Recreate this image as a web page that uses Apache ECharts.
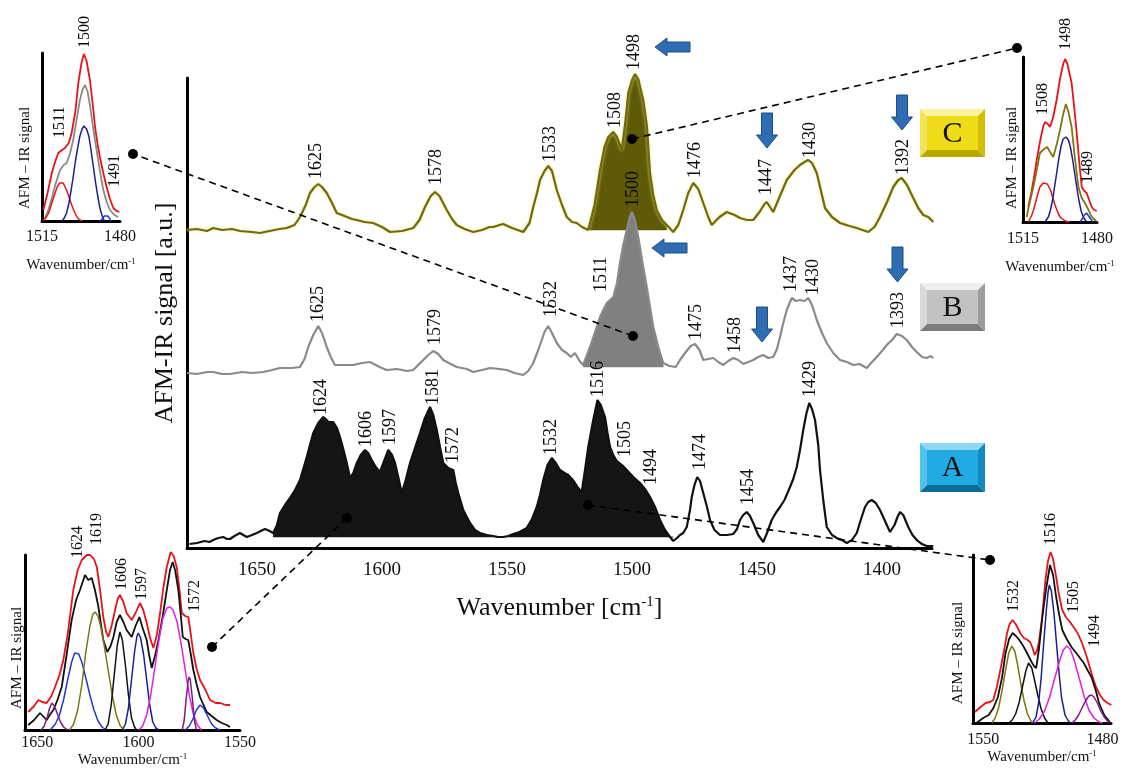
<!DOCTYPE html>
<html><head><meta charset="utf-8">
<script src="https://cdn.jsdelivr.net/npm/echarts@6/dist/echarts.min.js"></script>
<style>html,body{margin:0;padding:0;background:#fff}#c{width:1132px;height:770px}</style>
</head><body><div id="c"></div>
<script>
// ---------------- main spectra: [wavenumber, signal] ----------------
const specC = [[1678,315],[1674,316],[1670,314],[1667.5,317],[1664,315],[1660,316],[1656.8,314],[1652,313],[1648.8,312],[1645,314],[1641,316],[1638.1,317],[1635,320],[1632.8,328],[1630.5,340],[1628.8,352],[1627,358],[1625.5,361],[1624,358],[1622.1,352],[1620,342],[1618.1,332],[1615,329],[1612,326],[1610.1,325],[1607,323],[1603.5,322],[1600,318],[1596.8,313],[1592,314],[1587.5,317],[1585,325],[1582.8,338],[1580.5,349],[1578.8,353],[1577,349],[1574.1,335],[1572,326],[1570.1,320],[1567,316],[1563.5,313],[1560,315],[1557,318],[1555.5,318],[1553,320],[1551.5,321],[1548,317],[1543.5,313],[1541,322],[1539.5,338],[1538,352],[1536.8,365],[1535,374],[1533.5,379],[1532,374],[1530.1,355],[1528,340],[1526.1,328],[1524,323],[1522.1,322],[1520,318],[1517.5,315],[1515,340],[1512.8,375],[1511,398],[1509.5,408],[1507.5,413],[1506,408],[1504.1,395],[1502.8,420],[1501.5,452],[1500,465],[1498.8,471],[1497.5,466],[1495.5,445],[1494,418],[1492.8,372],[1491.5,350],[1490.1,335],[1488,325],[1486.1,320],[1483.5,313],[1481.5,320],[1479.5,335],[1477.5,352],[1475.5,362],[1473.5,356],[1471.5,342],[1469.5,328],[1468.1,320],[1465,328],[1462.1,333],[1459,330],[1456.8,327],[1454,325],[1451.5,325],[1449,333],[1447,341],[1446.1,343],[1444.8,338],[1443.5,333],[1441,348],[1438.1,365],[1435,375],[1432.8,380],[1431,383],[1429.5,385],[1428,382],[1426.1,372],[1424.5,355],[1422.8,337],[1420,328],[1416.8,322],[1413,319],[1410.1,317],[1405.5,313],[1403,318],[1400.8,328],[1398,343],[1395.5,358],[1393.5,365],[1392.1,367],[1390,360],[1387.5,347],[1385.5,337],[1383.5,330],[1381.5,328],[1379.5,323]];
const specB = [[1678,172],[1674,171],[1670,173],[1667.5,173],[1664,171],[1660.8,171],[1656,173],[1652,172],[1647.5,173],[1644,175],[1640.8,177],[1636,177],[1632.8,178],[1631,186],[1629.5,198],[1627.5,210],[1625.5,219],[1624,212],[1622.1,198],[1620.5,188],[1618.8,180],[1615,180],[1611.5,180],[1608,182],[1604.8,183],[1601,178],[1598.1,175],[1594,176],[1590,174],[1587.5,175],[1585.5,180],[1583.5,185],[1581.5,190],[1579.5,194],[1577.5,191],[1575.5,185],[1572.5,181],[1570.1,178],[1566,176],[1563.5,173],[1560,175],[1556.8,177],[1553,176],[1550.1,175],[1547,172],[1543.5,170],[1541.5,174],[1539.5,182],[1537.5,195],[1536.1,205],[1535,213],[1533.5,219],[1532,212],[1530.1,202],[1528,195],[1526.1,192],[1524.5,188],[1522.8,192],[1521,184],[1519.5,180],[1516.8,198],[1514.5,215],[1512.8,228],[1510.1,242],[1507.5,248],[1506,262],[1504.8,282],[1503.5,300],[1502.1,315],[1501,327],[1500,333],[1498.8,325],[1497.5,308],[1495.8,282],[1494.1,258],[1492.8,238],[1491.5,218],[1489.5,198],[1487.5,182],[1485,179],[1482.5,178],[1480.8,185],[1478.5,193],[1476.5,199],[1474.8,201],[1473,195],[1471.5,185],[1469.5,186],[1467.5,187],[1465.5,183],[1463.5,180],[1461.5,184],[1459.5,187],[1457.5,185],[1455.5,181],[1453.5,183],[1451.5,185],[1449.5,188],[1447.5,190],[1445.5,187],[1443.5,188],[1442,196],[1440.8,208],[1439.5,222],[1438.1,235],[1436.1,247],[1434.5,244],[1432.8,245],[1431,244],[1429.5,247],[1428,240],[1426.1,225],[1424,212],[1422.1,202],[1419.5,192],[1416.8,185],[1414,183],[1411.5,180],[1409,181],[1406.1,177],[1404,183],[1402.1,188],[1400,194],[1398.1,200],[1396,205],[1394.1,211],[1392,209],[1390.1,205],[1388,198],[1386.1,193],[1384,188],[1382.1,187],[1380.5,189],[1379.5,187]];
const specA = [[1677,1],[1674,2],[1671,4],[1669,3],[1667.5,5],[1665.5,7],[1663.5,8],[1662,6],[1660.8,6],[1659,9],[1656.8,12],[1655.5,10],[1654.1,8],[1652,10],[1650.1,12],[1648.5,14],[1646.8,16],[1645,14],[1643.5,12],[1642,20],[1640.8,32],[1638.8,40],[1636.8,47],[1634.8,55],[1632.8,65],[1631.5,76],[1630.1,88],[1628.8,100],[1627.5,112],[1625.5,122],[1623.5,128],[1622.5,126],[1621.5,123],[1619.5,123],[1618,117],[1616.8,108],[1615.5,96],[1614.1,82],[1612.8,67],[1611.5,72],[1610.1,82],[1608.5,90],[1606.8,95],[1605.5,92],[1604.1,85],[1602.5,78],[1600.8,73],[1599,85],[1597.5,95],[1596,90],[1594.8,82],[1593.5,68],[1592.1,52],[1590.5,65],[1588.8,82],[1586.8,97],[1584.8,112],[1583,126],[1580.8,138],[1579.5,130],[1578.1,115],[1576.8,98],[1575.5,82],[1573.5,77],[1571.5,75],[1570.5,62],[1569.5,52],[1567.5,35],[1564.8,22],[1562.8,15],[1560.8,12],[1558,10],[1555.5,9],[1553.5,8],[1551.5,8],[1549.5,9],[1547.5,11],[1545,13],[1542.1,17],[1540,26],[1538.1,38],[1536.8,50],[1535.5,65],[1533.8,80],[1532.1,87],[1530.5,82],[1528.8,75],[1527,72],[1525.5,70],[1524,66],[1522.8,62],[1521.5,57],[1520.1,53],[1518.8,75],[1517.5,98],[1515.5,125],[1513.8,145],[1512.5,140],[1510.8,128],[1509.8,112],[1508.8,98],[1507.5,90],[1506.1,84],[1504,80],[1502.1,75],[1499.5,68],[1496.8,62],[1494.5,55],[1492.8,48],[1490.8,38],[1488.8,25],[1486.8,15],[1484.8,8],[1483.5,4],[1482,7],[1480.8,10],[1479.5,12],[1478.1,18],[1476.8,35],[1476.1,48],[1475,60],[1473.9,68],[1472.8,64],[1471.5,52],[1470,38],[1468.8,25],[1467,15],[1464.8,10],[1462,10],[1459.5,11],[1458,16],[1456.8,25],[1455.5,30],[1454.1,33],[1452.8,29],[1451.5,22],[1449.5,10],[1447.5,3],[1446,12],[1444.1,25],[1442.5,32],[1440.8,38],[1439,45],[1436.8,58],[1435.5,66],[1434.1,78],[1432.8,95],[1431.5,115],[1430.2,132],[1429.1,142],[1428,136],[1426.8,125],[1425.5,100],[1424.8,75],[1423.5,45],[1422.1,18],[1420,10],[1418.1,7],[1416,5],[1414.1,2],[1412,5],[1410.1,12],[1408.5,25],[1406.8,38],[1405.5,43],[1404.1,45],[1402.5,42],[1400.8,35],[1398.8,24],[1396.8,13],[1395,20],[1393.8,28],[1392.8,33],[1391.5,30],[1389.5,18],[1387.8,10],[1386.1,5],[1384,1],[1382.1,-1],[1379.5,-1]];

// filled band of each spectrum: [from, to] wavenumbers and baseline level
const fillC = [1517.5, 1484, 315];
const fillB = [1520, 1487, 178];
const fillA = [1643.5, 1483.5, 8];

// peak labels: [wavenumber, level, text]
const labelsC = [[1626.1,366,'1625'],[1578.1,360,'1578'],[1532.8,383,'1533'],[1506.8,417,'1508'],[1499.2,475,'1498'],[1474.8,367,'1476'],[1446.1,350,'1447'],[1428.8,387,'1430'],[1391.5,370,'1392']];
const labelsB = [[1625.5,223,'1625'],[1578.8,200,'1579'],[1532.1,228,'1532'],[1512.1,253,'1511'],[1499.6,338,'1500'],[1474.2,205,'1475'],[1458.8,192,'1458'],[1436.1,253,'1437'],[1427.5,250,'1430'],[1393.5,217,'1393']];
const labelsA = [[1624.1,130,'1624'],[1606.1,98,'1606'],[1596.8,100,'1597'],[1579.5,140,'1581'],[1571.5,82,'1572'],[1532.1,90,'1532'],[1513.5,148,'1516'],[1502.8,88,'1505'],[1492.1,60,'1494'],[1472.8,75,'1474'],[1453.5,40,'1454'],[1428.8,148,'1429']];

// main tick labels
const mainTicks = [1650, 1600, 1550, 1500, 1450, 1400];

// ---------------- inset spectra ----------------
// top-left inset (spectrum B, 1515-1480)
const tlTotal = [[1514.4,11],[1512.5,28],[1510.6,48],[1509,60],[1507.7,68],[1506,71],[1504.7,73],[1503,78],[1501.7,88],[1500,110],[1498.7,138],[1497.3,158],[1496.2,167],[1495,160],[1493.5,141],[1492.3,118],[1491.2,94],[1490,76],[1489,64],[1487.5,48],[1486,34],[1484.5,22],[1483,13],[1481.5,10],[1480.3,9]];
const tlSpec = [[1513.7,3],[1512,12],[1510.6,23],[1508.8,38],[1506.9,51],[1505.3,56],[1503.9,58],[1502.5,67],[1501,81],[1499.5,101],[1498,121],[1496.7,132],[1495.7,136],[1494.6,130],[1493.5,116],[1492,92],[1490.5,71],[1489,50],[1487.5,31],[1486,19],[1484.5,11],[1482.5,6],[1480.8,4]];
const tlBand1 = [[1514.4,0],[1513,4],[1512,8],[1511,15],[1510,22],[1509,29],[1508,35],[1507,38],[1506.5,39],[1505.5,38],[1505,36],[1504,31],[1503,25],[1502,18],[1501,12],[1500,7],[1499,3],[1498,1],[1497,0]];
const tlBand2 = [[1506,0],[1505,3],[1504,8],[1503,17],[1502,30],[1501,44],[1500,60],[1499,73],[1498,85],[1497,92],[1496.2,95],[1495,92],[1494,85],[1493,71],[1492,55],[1491,39],[1490,25],[1489,13],[1488,5],[1487,0]];
const tlBand3 = [[1489,0],[1488,2],[1487,5],[1486.3,6],[1485.5,5],[1484.5,2],[1484,0]];
const tlLabels = [[1495.7,173,'1500'],[1506.9,83,'1511'],[1482.2,34,'1491']];

// top-right inset (spectrum C)
const trTotal = [[1512.5,15],[1511,30],[1510,42],[1508.5,62],[1507,80],[1505.5,95],[1504.6,100],[1503.3,98],[1502.2,95],[1500.7,105],[1499.1,122],[1497.5,143],[1496,158],[1495.1,163],[1494,158],[1492,139],[1490.8,115],[1489.6,89],[1488.4,60],[1487.2,35],[1486,31],[1484.9,29],[1483.7,22],[1482.5,15],[1481.3,12],[1480.1,11]];
const trSpec = [[1513.3,5],[1512,18],[1510.1,35],[1508.5,52],[1507,69],[1505,73],[1503.5,75],[1502.5,71],[1500.7,65],[1499,78],[1497.5,92],[1496,108],[1494.7,118],[1493.5,110],[1492,95],[1490.5,65],[1488.8,35],[1487.2,24],[1485.7,19],[1484,12],[1482.5,5],[1480.5,1]];
const trBand1 = [[1512.5,0],[1511,6],[1510,12],[1509,20],[1508,28],[1507,35],[1505.5,39],[1504.6,40],[1503.5,38],[1502,32],[1501,25],[1500,18],[1499,12],[1498,7],[1497,4],[1495,1],[1493,0]];
const trBand2 = [[1504.6,0],[1503,5],[1502,12],[1501,22],[1500,36],[1499,50],[1498,64],[1497,76],[1496,83],[1494.7,85],[1493.5,82],[1492.5,74],[1491.5,62],[1490.5,48],[1489.5,34],[1488.5,21],[1487.5,11],[1486.5,5],[1484.9,0]];
const trBand3 = [[1488,0],[1487,3],[1486,7],[1484.9,9],[1484,7],[1483,3],[1482,0]];
const trLabels = [[1494.7,172,'1498'],[1505.5,107,'1508'],[1484.3,39,'1489']];

// bottom-left inset (spectrum A, 1656-1550)
const blTotal = [[1654.4,18],[1651.5,24],[1649.4,30],[1647.5,28],[1645.3,27],[1643,34],[1641.2,43],[1639,55],[1637.1,70],[1635,95],[1632.2,140],[1630,160],[1628,170],[1625.5,175],[1623.9,175],[1622,171],[1620.6,163],[1619,140],[1617.4,113],[1616,98],[1614.9,93],[1613.2,105],[1611.6,120],[1610.3,131],[1609.2,135],[1607.5,128],[1605.9,117],[1603.4,110],[1601.5,117],[1599.3,127],[1597.7,120],[1596,107],[1594.3,92],[1592.7,82],[1591,95],[1589.4,117],[1587.8,142],[1586.1,163],[1584.2,178],[1582.7,174],[1581.2,163],[1579.8,140],[1578.7,117],[1577,114],[1575.5,113],[1574.2,95],[1573,77],[1571.5,62],[1569.7,50],[1567,40],[1564.8,30],[1562,27],[1559.8,27],[1557,25],[1554.9,25]];
const blSpec = [[1654.4,5],[1651.5,10],[1648.6,17],[1645.3,10],[1643.5,16],[1642,20],[1640,30],[1637.9,43],[1635.5,75],[1633,110],[1630.8,130],[1628.9,140],[1626.4,155],[1624.8,150],[1623.1,152],[1621.5,140],[1619.8,123],[1618.5,105],[1617.4,90],[1615.4,78],[1613.8,84],[1612.4,93],[1610.8,108],[1609.2,115],[1607.5,108],[1605.9,100],[1603.4,93],[1601.5,104],[1599.6,113],[1598,102],[1596,90],[1594.8,75],[1593.5,62],[1591.8,75],[1590.2,90],[1588,115],[1586.1,140],[1584.5,160],[1583.2,168],[1582,160],[1580.4,140],[1579.2,115],[1578.2,93],[1576.8,91],[1575.5,90],[1574.2,75],[1573,60],[1571.3,45],[1569.7,33],[1568,25],[1566.4,18],[1564,14],[1561.5,10],[1559,7],[1556.5,5],[1554.9,3]];
const blBand1 = [[1648,0],[1646.5,4],[1645,13],[1644,21],[1642.8,27],[1641.5,24],[1640,16],[1638.5,8],[1637,3],[1635,0]];
const blBand2 = [[1643.6,0],[1641,6],[1639,15],[1637,30],[1635,50],[1633,68],[1631.5,77],[1630.9,78],[1629.5,76],[1628,68],[1626,52],[1624,35],[1622,20],[1620,9],[1618,3],[1616,0]];
const blBand3 = [[1634,0],[1632,6],[1630,20],[1628,45],[1626,78],[1624,104],[1622.5,116],[1621.5,118],[1620,114],[1618.5,102],[1617,85],[1615,60],[1613,35],[1611,15],[1609,4],[1607,0]];
const blBand4 = [[1616.5,0],[1615,6],[1613.5,25],[1612,55],[1610.5,85],[1609.2,98],[1608,90],[1606.5,65],[1605,35],[1603.5,12],[1602,3],[1601,0]];
const blBand5 = [[1608,0],[1606.5,6],[1605,22],[1603.5,50],[1602,78],[1600.8,94],[1600.1,97],[1599,92],[1597.5,75],[1596,50],[1594.5,25],[1593,8],[1591.5,2],[1590,0]];
const blBand6 = [[1600,0],[1598,4],[1596,15],[1594,35],[1592,62],[1590,90],[1588,112],[1586,122],[1584.5,123],[1583,120],[1581,108],[1579,86],[1577,60],[1575,35],[1573,16],[1571,5],[1569,0]];
const blBand7 = [[1578.5,0],[1577.5,10],[1576.5,32],[1575.5,50],[1575,53],[1574.5,50],[1573.5,32],[1572.5,10],[1571.5,0]];
const blBand8 = [[1577,0],[1575,4],[1573,12],[1571.5,20],[1569.7,25],[1568,22],[1566,14],[1564,6],[1562,2],[1560,0]];
const blLabels = [[1629.9,172,'1624'],[1620.5,185,'1619'],[1608.2,140,'1606'],[1598.3,130,'1597'],[1572.2,118,'1572']];

// bottom-right inset (spectrum A, 1556-1475)
const brTotal = [[1554.9,11],[1551.5,16],[1548.6,20],[1546,21],[1544.1,23],[1542,36],[1539.6,56],[1537.5,75],[1536,90],[1534.5,99],[1532.8,103],[1531,99],[1529.7,95],[1528,89],[1526.1,85],[1524,83],[1522.5,81],[1521,75],[1519.8,68],[1518.5,72],[1517.1,83],[1515.5,105],[1513.5,143],[1512,162],[1510.5,171],[1509,164],[1507.2,146],[1505.5,128],[1503.6,113],[1501.5,106],[1499.1,101],[1497,96],[1494.6,90],[1492,80],[1489.2,66],[1486.5,50],[1483.8,36],[1481.5,28],[1479.3,23],[1477,20],[1474.8,18]];
const brSpec = [[1554,0],[1550,5],[1546.8,8],[1544,15],[1541.4,26],[1539,45],[1536.9,70],[1534.8,84],[1532.8,90],[1530.8,87],[1528.8,83],[1526.5,77],[1524.3,70],[1522.8,65],[1521.6,61],[1520.2,57],[1518.9,55],[1517.2,75],[1515.3,106],[1513,135],[1510.8,158],[1509,148],[1507.2,126],[1505.4,108],[1503.6,93],[1501,84],[1498.2,76],[1494.5,68],[1491,60],[1488.8,53],[1486.5,46],[1484.2,34],[1482,20],[1479,8],[1475.7,1]];
const brBand1 = [[1545,0],[1543,5],[1541,15],[1539,32],[1537,52],[1535,70],[1533.3,77],[1531.5,72],[1530,60],[1528,40],[1526,22],[1524,9],[1522,2],[1521,0]];
const brBand2 = [[1535,0],[1533,3],[1531,9],[1529,20],[1527,36],[1525,52],[1523.4,60],[1521.5,55],[1520,44],[1518,28],[1516,14],[1514,5],[1512,0]];
const brBand3 = [[1521,0],[1519,6],[1517.5,20],[1516,45],[1514.5,80],[1513,112],[1512,130],[1511.2,138],[1510,132],[1508.5,110],[1507,80],[1505.5,50],[1504,25],[1502,8],[1500,2],[1499,0]];
const brBand4 = [[1520,0],[1517,4],[1514,12],[1511,26],[1508,45],[1505,63],[1503,73],[1500.9,77],[1499,74],[1497,65],[1494,47],[1491,28],[1488,13],[1485,5],[1482,1],[1480,0]];
const brBand5 = [[1498,0],[1496,3],[1494,8],[1492,15],[1490,22],[1488,27],[1486.5,28],[1485,26],[1483,20],[1481,12],[1479,6],[1477,2],[1476,0]];
const brLabels = [[1510.6,178,'1516'],[1532.2,111,'1532'],[1496.6,110,'1505'],[1484.7,76,'1494']];

// annotations
const downArrows = [[1446,397],[1392,415],[1448,203],[1393.8,263]];  // tip positions
const leftArrows = [[1490.8,498],[1492,297]];
const connectorsMain = [[1499.6,209],[1500,406],[1614,27],[1517.6,40]];
const connectorsInset = [[133,154],[1017,48],[212,647],[990,560]];

// ---------------- build ----------------
const SERIF = '"Liberation Serif","Times New Roman",serif';
const chart = echarts.init(document.getElementById('c'));

function lineS(data, gi, color, width, z) {
  return {type:'line', data, xAxisIndex:gi, yAxisIndex:gi, showSymbol:false, symbol:'none', clip:false,
    lineStyle:{color, width}, z: z||3, silent:true, animation:false};
}
// filled band drawn as polygon between the spectrum and its baseline
function fillS(data, band, color, z) {
  const seg = data.filter(p => p[0] <= band[0] && p[0] >= band[1]);
  return {type:'custom', xAxisIndex:0, yAxisIndex:0, z, silent:true, animation:false, clip:false,
    data:[[seg[0][0], band[2]]],
    renderItem: function(params, api) {
      const pts = seg.map(p => api.coord([p[0], Math.max(p[1], band[2])]));
      pts.push(api.coord([seg[seg.length-1][0], band[2]]));
      pts.push(api.coord([seg[0][0], band[2]]));
      return {type:'polygon', shape:{points:pts}, style:{fill:color, stroke:color, lineWidth:0.5}};
    }};
}
function labelS(arr, gi, size) {
  return {type:'scatter', xAxisIndex:gi, yAxisIndex:gi, clip:false, silent:true, animation:false, z:10,
    data: arr.map(l => ({value:[l[0], l[1]], name:l[2]})), symbol:'circle', symbolSize:0.1, itemStyle:{color:'#111', opacity:1},
    label:{show:true, formatter:'{b}', rotate:90, position:'inside', align:'left', verticalAlign:'middle',
      fontFamily:SERIF, fontSize:size, color:'#0a0a0a', opacity:1, textBorderWidth:0, textShadowBlur:0},
    labelLayout:{hideOverlap:false}};
}
function xAx(gi, min, max, interval, show, name, gap, margin, size) {
  return {type:'value', gridIndex:gi, min, max, interval, inverse:true,
    axisLine:{show:true, onZero:false, lineStyle:{color:'#000', width:3}}, axisTick:{show:false}, splitLine:{show:false},
    axisLabel:{show:true, margin, fontFamily:SERIF, fontSize:size, color:'#111',
      formatter: v => show.indexOf(v) >= 0 ? String(v) : ''},
    name, nameLocation:'middle', nameGap:gap,
    nameTextStyle:{fontFamily:SERIF, fontSize: gi===0?26:15, color:'#111',
      rich:{sup:{fontFamily:SERIF, fontSize: gi===0?15:9, verticalAlign:'top', padding:[0,0,gi===0?12:7,0], color:'#111'}}}};
}
function yAx(gi, min, max, name) {
  return {type:'value', gridIndex:gi, min, max, axisLine:{show:true, lineStyle:{color:'#000', width:3}},
    axisTick:{show:false}, axisLabel:{show:false}, splitLine:{show:false},
    name: name||'', nameLocation:'middle', nameRotate:90, nameGap:9,
    nameTextStyle:{fontFamily:SERIF, fontSize:26, color:'#111'}};
}

const grids = [
  {left:187, top:78, width:745, height:470},
  {left:42, top:53, width:78, height:168},
  {left:1023, top:57, width:74, height:165},
  {left:25, top:555, width:215, height:175},
  {left:973, top:555, width:150, height:168}
];
const xAxes = [
  xAx(0, 1380, 1678, 10, mainTicks, 'Wavenumber [cm{sup|-1}]', 47, 13, 19),
  xAx(1, 1480, 1515, 5, [1480,1515], 'Wavenumber/cm{sup|-1}', 36, 8, 16),
  xAx(2, 1480, 1515, 5, [1480,1515], 'Wavenumber/cm{sup|-1}', 37, 9, 16),
  xAx(3, 1550, 1656, 50, [1550,1600,1650], 'Wavenumber/cm{sup|-1}', 22, 5, 16),
  xAx(4, 1475, 1556, 5, [1480,1550], 'Wavenumber/cm{sup|-1}', 26, 9, 16)
];
const yAxes = [yAx(0, -3, 467, 'AFM-IR signal [a.u.]'), yAx(1,0,168), yAx(2,0,165), yAx(3,0,175), yAx(4,0,168)];

const RED='#e8121a', BLK='#111111', GRY='#8a8a8a', OLV='#7d7712', NAVY='#1b1f96', MAG='#e21fe0', PUR='#7d1c7d', BLU='#2438d0';
const series = [].concat(
  [fillS(specC, fillC, '#5e5a07', 2)],
  [Object.assign(lineS(specC, 0, '#6f6b0c', 2.2, 3), {lineStyle:{color:'#6f6b0c', width:2.2, shadowColor:'rgba(240,225,120,0.9)', shadowBlur:3}})],
  [fillS(specB, fillB, '#808080', 4)],
  [lineS(specB, 0, '#8a8a8a', 2.2, 5)],
  [fillS(specA, fillA, '#151515', 6)],
  [lineS(specA, 0, '#111', 2.2, 7)],
  [labelS(labelsC,0,18), labelS(labelsB,0,18), labelS(labelsA,0,18)],
  [lineS(tlTotal,1,RED,1.8), lineS(tlSpec,1,GRY,1.8), lineS(tlBand1,1,RED,1.5), lineS(tlBand2,1,NAVY,1.5), lineS(tlBand3,1,BLU,1.5), labelS(tlLabels,1,16)],
  [lineS(trTotal,2,RED,1.8), lineS(trSpec,2,OLV,1.8), lineS(trBand1,2,RED,1.5), lineS(trBand2,2,NAVY,1.5), lineS(trBand3,2,BLU,1.5), labelS(trLabels,2,16)],
  [lineS(blTotal,3,RED,1.8), lineS(blSpec,3,BLK,1.8), lineS(blBand1,3,PUR,1.5), lineS(blBand2,3,BLU,1.5), lineS(blBand3,3,OLV,1.5), lineS(blBand4,3,BLK,1.5), lineS(blBand5,3,NAVY,1.5), lineS(blBand6,3,MAG,1.5), lineS(blBand7,3,PUR,1.5), lineS(blBand8,3,BLU,1.5), labelS(blLabels,3,16)],
  [lineS(brTotal,4,RED,1.8), lineS(brSpec,4,BLK,1.8), lineS(brBand1,4,OLV,1.5), lineS(brBand2,4,BLK,1.5), lineS(brBand3,4,NAVY,1.5), lineS(brBand4,4,MAG,1.5), lineS(brBand5,4,PUR,1.5), labelS(brLabels,4,16)]
);

chart.setOption({animation:false, backgroundColor:'#fff', grid:grids, xAxis:xAxes, yAxis:yAxes, series});

// ---------------- graphic annotations ----------------
const P = (w,v) => chart.convertToPixel({xAxisIndex:0, yAxisIndex:0}, [w,v]);
const g = [];
const AFILL='#2f6db3', ASTROKE='#1e4d86';
downArrows.forEach(a => {
  const [tx,ty] = P(a[0],a[1]); const L=35, W=21, H=13, S=11;
  g.push({type:'polygon', shape:{points:[[tx,ty],[tx-W/2,ty-H],[tx-S/2,ty-H],[tx-S/2,ty-L],[tx+S/2,ty-L],[tx+S/2,ty-H],[tx+W/2,ty-H]]},
    style:{fill:AFILL, stroke:ASTROKE, lineWidth:1}, z:100});
});
leftArrows.forEach(a => {
  const [tx,ty] = P(a[0],a[1]); const L=35, W=18, H=12, S=10;
  g.push({type:'polygon', shape:{points:[[tx,ty],[tx+H,ty-W/2],[tx+H,ty-S/2],[tx+L,ty-S/2],[tx+L,ty+S/2],[tx+H,ty+S/2],[tx+H,ty+W/2]]},
    style:{fill:AFILL, stroke:ASTROKE, lineWidth:1}, z:100});
});
connectorsMain.forEach((m,i) => {
  const [mx,my] = P(m[0],m[1]); const [ix,iy] = connectorsInset[i];
  g.push({type:'line', shape:{x1:mx,y1:my,x2:ix,y2:iy}, style:{stroke:'#000', lineWidth:1.6, lineDash:[7,5]}, z:100});
  g.push({type:'circle', shape:{cx:mx,cy:my,r:5}, style:{fill:'#000'}, z:101});
  g.push({type:'circle', shape:{cx:ix,cy:iy,r:5}, style:{fill:'#000'}, z:101});
});
function bevelBox(x,y,w,h,c,letter){
  const b=7;
  g.push({type:'polygon', shape:{points:[[x,y],[x+w,y],[x+w-b,y+b],[x+b,y+b]]}, style:{fill:c[0]}, z:100});
  g.push({type:'polygon', shape:{points:[[x,y],[x+b,y+b],[x+b,y+h-b],[x,y+h]]}, style:{fill:c[1]}, z:100});
  g.push({type:'polygon', shape:{points:[[x,y+h],[x+b,y+h-b],[x+w-b,y+h-b],[x+w,y+h]]}, style:{fill:c[3]}, z:100});
  g.push({type:'polygon', shape:{points:[[x+w,y],[x+w,y+h],[x+w-b,y+h-b],[x+w-b,y+b]]}, style:{fill:c[2]}, z:100});
  g.push({type:'rect', shape:{x:x+b,y:y+b,width:w-2*b,height:h-2*b}, style:{fill:c[4]}, z:100});
  g.push({type:'text', x:x+w/2, y:y+h/2+1, style:{text:letter, font:'30px '+SERIF, fill:'#111', align:'center', verticalAlign:'middle'}, z:102});
}
bevelBox(920,109,65,48,['#fbf3a0','#f3e35a','#d1bf05','#b9a800','#efdc18'],'C');
bevelBox(920,283,65,48,['#efefef','#d9d9d9','#9c9c9c','#7c7c7c','#c2c2c2'],'B');
bevelBox(920,443,65,49,['#8fd8f4','#52c1ec','#1489bd','#0c6d98','#22aae2'],'A');

[[25,158],[1012,158],[17,658],[958,653]].forEach(p => {
  g.push({type:'text', x:p[0], y:p[1], rotation:Math.PI/2,
    style:{text:'AFM \u2013 IR signal', font:'15px '+SERIF, fill:'#111', align:'center', verticalAlign:'middle'}, z:102});
});
chart.setOption({graphic:g});
</script>
</body></html>
